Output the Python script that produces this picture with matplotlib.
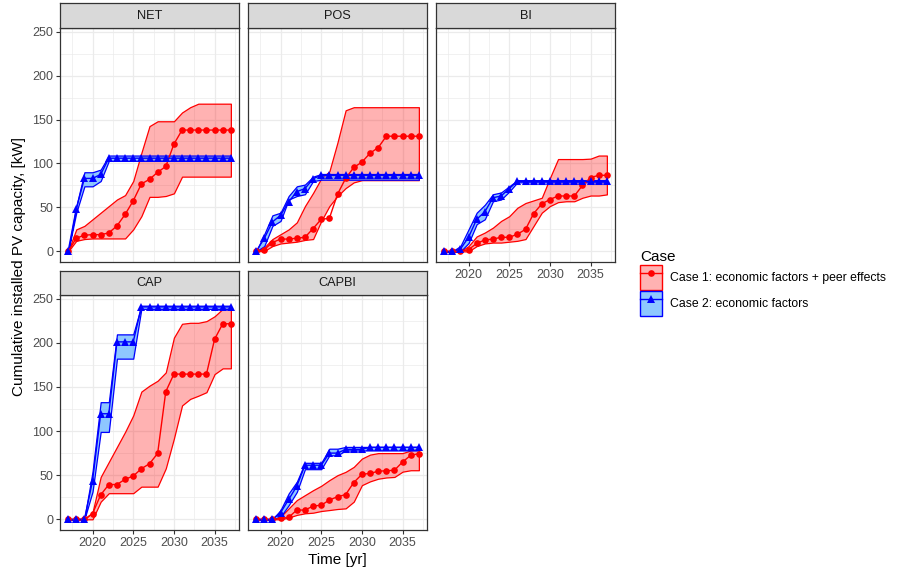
import numpy as np
import matplotlib
matplotlib.use("Agg")
import matplotlib.pyplot as plt
from matplotlib.patches import Patch
from matplotlib.lines import Line2D
from matplotlib.legend_handler import HandlerTuple

plt.rcParams['font.family'] = ['Liberation Sans', 'DejaVu Sans']

years = list(range(2017, 2038))
panels = ["NET", "POS", "BI", "CAP", "CAPBI"]
case_labels = ["Case 1: economic factors + peer effects", "Case 2: economic factors"]

# Case 1 (economic factors + peer effects): mean, lower, upper
net_c1_mean = [0, 15, 18.4, 19, 19, 21, 29, 42, 57.5, 76.7, 82, 90, 96.6, 122, 138, 138, 138, 138, 138, 138, 138]
net_c1_low = [0, 12, 14, 14.7, 14.7, 14.7, 14.7, 14.7, 25, 40, 62, 62, 63, 66, 85, 85, 85, 85, 85, 85, 85]
net_c1_up = [0, 25, 29, 36.5, 44, 51.5, 59, 64, 80, 112, 142.5, 148, 148, 148, 158, 164, 168, 168, 168, 168, 168]
# Case 2 (economic factors)
net_c2_mean = [0, 48.5, 83, 83, 87.5, 106, 106, 106, 106, 106, 106, 106, 106, 106, 106, 106, 106, 106, 106, 106, 106]
net_c2_low = [0, 44, 74, 74, 80, 103, 103, 103, 103, 103, 103, 103, 103, 103, 103, 103, 103, 103, 103, 103, 103]
net_c2_up = [0, 51, 90, 90, 93, 109, 109, 109, 109, 109, 109, 109, 109, 109, 109, 109, 109, 109, 109, 109, 109]

pos_c1_mean = [0, 2, 10, 14, 14, 15, 16, 26, 36.5, 37.6, 65, 83, 95.5, 101.5, 111.7, 118, 131, 131, 131, 131, 131]
pos_c1_low = [0, 0.5, 6, 9, 10, 11, 13, 14, 34.5, 51.5, 63, 72, 78.5, 81, 81, 81, 81, 81, 81, 81, 81]
pos_c1_up = [0, 4.5, 14, 19.5, 25, 33, 51.5, 66.5, 83, 91, 124, 160.5, 164, 164, 164, 164, 164, 164, 164, 164, 164]
pos_c2_mean = [0, 14.7, 33.5, 41, 56.4, 68, 71.4, 82.7, 86.5, 86.5, 86.5, 86.5, 86.5, 86.5, 86.5, 86.5, 86.5, 86.5, 86.5, 86.5, 86.5]
pos_c2_low = [0, 6, 29, 34.6, 59, 63, 65, 80, 81.5, 81.5, 81.5, 81.5, 81.5, 81.5, 81.5, 81.5, 81.5, 81.5, 81.5, 81.5, 81.5]
pos_c2_up = [0, 19.5, 41, 44, 63, 74, 76, 85, 88, 88, 88, 88, 88, 88, 88, 88, 88, 88, 88, 88, 88]

bi_c1_mean = [0, 0, 0, 2, 9, 13, 14, 16, 16, 19.5, 25, 43, 54, 59, 63, 63, 63, 75, 84, 86.5, 86.5]
bi_c1_low = [0, 0, 0, 0, 6, 9, 10, 10, 11, 12, 14, 29, 44, 51.5, 56, 57, 57, 61, 63.5, 63.5, 64.8]
bi_c1_up = [0, 0, 0, 6, 17, 21.4, 27, 34.6, 40, 49.6, 55, 58, 61, 83.5, 105, 105, 105, 105, 105.5, 109, 109]
bi_c2_mean = [0, 0, 2.6, 16, 36.5, 45, 61, 63, 71.4, 79.7, 79.7, 79.7, 79.7, 79.7, 79.7, 79.7, 79.7, 79.7, 79.7, 79.7, 79.7]
bi_c2_low = [0, 0, 0, 9.4, 31, 36.5, 57, 59, 68, 78.6, 78.6, 78.6, 78.6, 78.6, 78.6, 78.6, 78.6, 78.6, 78.6, 78.6, 78.6]
bi_c2_up = [0, 0, 6, 25, 44, 53, 65, 67, 74, 81, 81, 81, 81, 81, 81, 81, 81, 81, 81, 81, 81]

cap_c1_mean = [0, 0, 0, 6.4, 27.7, 39.4, 39.4, 45.4, 49, 57.3, 63, 74.6, 144.7, 164.5, 164.5, 164.5, 164.5, 164.5, 204, 221.5, 221.5]
cap_c1_low = [0, 0, 0, 0, 20, 29.6, 29.6, 29.6, 29.6, 37, 37, 37, 57.7, 91.5, 129, 136.4, 140, 144, 164.5, 171, 171]
cap_c1_up = [0, 0, 0, 8, 48, 65, 82, 99, 117.7, 144.7, 151.4, 157, 166.4, 205.8, 221.5, 222.6, 222.6, 224.5, 230, 238.4, 238.4]
cap_c2_mean = [0, 0, 0, 43.5, 119.6, 119.6, 201, 201, 201, 240.6, 240.6, 240.6, 240.6, 240.6, 240.6, 240.6, 240.6, 240.6, 240.6, 240.6, 240.6]
cap_c2_low = [0, 0, 0, 31.5, 99, 99, 182, 182, 182, 238.4, 238.4, 238.4, 238.4, 238.4, 238.4, 238.4, 238.4, 238.4, 238.4, 238.4, 238.4]
cap_c2_up = [0, 0, 1, 54, 132.7, 132.7, 209.5, 209.5, 209.5, 242, 242, 242, 242, 242, 242, 242, 242, 242, 242, 242, 242]

capbi_c1_mean = [0, 0, 0, 1, 2.3, 10.5, 10.5, 15, 16, 21.8, 25.6, 28, 41.7, 51, 52, 54.5, 55, 55.6, 65, 72.5, 74.4]
capbi_c1_low = [0, 0, 0, 0, 2, 5, 6.8, 7.5, 9.4, 10.5, 11.7, 12.4, 20, 38.7, 43, 46, 47.4, 48, 54, 55.6, 55.6]
capbi_c1_up = [0, 0, 0, 3, 12.4, 21.8, 27.4, 33, 38, 44.4, 50, 53.8, 59.4, 68.8, 73.3, 75, 75, 75, 75, 78, 80]
capbi_c2_mean = [0, 0, 0, 7.5, 22.5, 37.6, 61.3, 61.3, 61.3, 75, 75, 79.3, 79.3, 79.3, 81.6, 81.6, 81.6, 81.6, 81.6, 81.6, 81.6]
capbi_c2_low = [0, 0, 0, 3, 16, 31, 56.8, 56.8, 56.8, 72.5, 72.5, 78, 78, 78, 78, 78, 78, 78, 78, 78, 78]
capbi_c2_up = [0, 0, 0, 10.5, 29.3, 42.5, 64, 64, 64, 80, 80, 82, 82, 82, 82, 82, 82, 82, 82, 82, 82]

data = {
    "NET": [(net_c1_mean, net_c1_low, net_c1_up), (net_c2_mean, net_c2_low, net_c2_up)],
    "POS": [(pos_c1_mean, pos_c1_low, pos_c1_up), (pos_c2_mean, pos_c2_low, pos_c2_up)],
    "BI": [(bi_c1_mean, bi_c1_low, bi_c1_up), (bi_c2_mean, bi_c2_low, bi_c2_up)],
    "CAP": [(cap_c1_mean, cap_c1_low, cap_c1_up), (cap_c2_mean, cap_c2_low, cap_c2_up)],
    "CAPBI": [(capbi_c1_mean, capbi_c1_low, capbi_c1_up), (capbi_c2_mean, capbi_c2_low, capbi_c2_up)],
}

W, H = 897, 571
fig = plt.figure(figsize=(W / 100, H / 100), dpi=100)

def rect(l, t, w, h):
    return [l / W, 1 - (t + h) / H, w / W, h / H]

col_left = [60, 248, 436]
pw = 179
rows = [(3, 28, 262), (271, 295, 530)]  # strip top, plot top, plot bottom
positions = {"NET": (0, 0), "POS": (0, 1), "BI": (0, 2), "CAP": (1, 0), "CAPBI": (1, 1)}

line_colors = ["#FF0000", "#0000FF"]
fill_colors = [(1, 0, 0, 0.3), (0.118, 0.565, 1.0, 0.5)]
markers = ["o", "^"]
msizes = [4.8, 5.2]

allv = []
for p in panels:
    for s in data[p]:
        for arr in s:
            allv += list(arr)
ymin, ymax = min(allv), max(allv)
yr = ymax - ymin
ylim = (ymin - 0.05 * yr, ymax + 0.05 * yr)
xr = years[-1] - years[0]
xlim = (years[0] - 0.05 * xr, years[-1] + 0.05 * xr)

grid_c = "#EBEBEB"
border_c = "#333333"
tick_c = "#4D4D4D"

for p in panels:
    r, c = positions[p]
    st, pt, pb = rows[r]
    l = col_left[c]
    ax = fig.add_axes(rect(l, pt, pw, pb - pt))
    sax = fig.add_axes(rect(l, st, pw, pt - st))
    sax.set_facecolor("#D9D9D9")
    sax.set_xticks([]); sax.set_yticks([])
    for sp in sax.spines.values():
        sp.set_color(border_c); sp.set_linewidth(0.9)
    sax.text(0.5, 0.48, p, ha="center", va="center", fontsize=9.2, color="#1A1A1A", transform=sax.transAxes)

    x = np.array(years)
    series = data[p]
    for i, (m, lo, up) in enumerate(series):
        ax.fill_between(x, lo, up, facecolor=fill_colors[i], edgecolor=line_colors[i], linewidth=0.9, zorder=2 + i * 0.1)
    for i, (m, lo, up) in enumerate(series):
        ax.plot(x, m, color=line_colors[i], lw=1.0, zorder=3 + i * 0.1)
    for i, (m, lo, up) in enumerate(series):
        ax.plot(x, m, linestyle="none", marker=markers[i], color=line_colors[i], markersize=msizes[i], markeredgewidth=0, zorder=4 + i * 0.1)

    ax.set_xlim(xlim); ax.set_ylim(ylim)
    ax.set_xticks([2020, 2025, 2030, 2035])
    ax.set_yticks([0, 50, 100, 150, 200, 250])
    ax.set_xticks([2017.5, 2022.5, 2027.5, 2032.5, 2037.5], minor=True)
    ax.set_yticks([25, 75, 125, 175, 225], minor=True)
    ax.grid(True, which="major", color=grid_c, lw=0.9, zorder=0)
    ax.grid(True, which="minor", color=grid_c, lw=0.5, zorder=0)
    ax.set_axisbelow(True)
    for sp in ax.spines.values():
        sp.set_color(border_c); sp.set_linewidth(0.9); sp.set_zorder(10)
    ax.tick_params(which="minor", length=0)
    ax.tick_params(which="major", length=2.75, width=0.8, color=border_c, labelsize=9, labelcolor=tick_c, pad=2.2)
    show_x = p in ("CAP", "CAPBI", "BI")
    show_y = c == 0
    ax.tick_params(axis="x", bottom=show_x, labelbottom=show_x)
    ax.tick_params(axis="y", left=show_y, labelleft=show_y)

fig.text(19 / W, 1 - 267 / H, "Cumulative installed PV capacity, [kW]", rotation=90, ha="center", va="center", fontsize=11, color="black")
fig.text(337.5 / W, 1 - 560 / H, "Time [yr]", ha="center", va="center", fontsize=11, color="black")

handles = []
for i in range(2):
    patch = Patch(facecolor=fill_colors[i], edgecolor=line_colors[i], linewidth=1.0)
    ln = Line2D([0], [0], color=line_colors[i], lw=1.0, marker=markers[i], markersize=msizes[i], markeredgewidth=0)
    handles.append((patch, ln))
leg = fig.legend(handles=handles, labels=case_labels, title="Case", loc="upper left",
                 bbox_to_anchor=(630 / W, 1 - 240 / H), frameon=False, fontsize=8.8, title_fontsize=11,
                 handlelength=1.85, handleheight=2.75, labelspacing=0.1, handletextpad=0.6, numpoints=1,
                 alignment="left", borderpad=0.3,
                 handler_map={tuple: HandlerTuple(ndivide=1, pad=0)})

fig.savefig("out.png", dpi=100)
